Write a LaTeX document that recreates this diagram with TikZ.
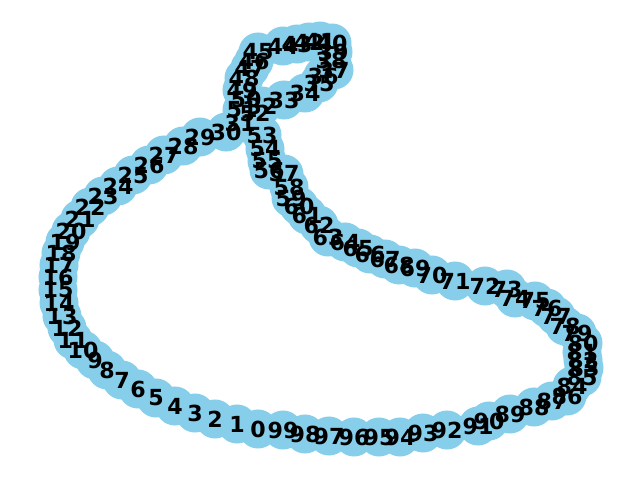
\documentclass[tikz,border=0pt]{standalone}
\usepackage{fontspec}
\setmainfont{DejaVu Sans}
\pgfdeclarelayer{bg}
\pgfsetlayers{bg,main}
\definecolor{skyblue}{HTML}{87CEEB}
\begin{document}
\begin{tikzpicture}[x=0.01in,y=-0.01in,
  vert/.style={circle,fill=skyblue,draw=none,minimum size=0.39in,inner sep=0pt},
  lab/.style={font=\bfseries\fontsize{16}{16}\selectfont,inner sep=0pt,text=black},
  edge/.style={draw=black,line width=1pt}]
\useasboundingbox (0,0) rectangle (640,480);
\foreach \i/\x/\y in {0/258/429,1/237/424,2/215/419,3/195/413,4/175/406,5/156/398,6/138/389,7/122/380,8/107/370,9/95/360,
10/83/350,11/73/340,12/67/328,13/62/316,14/59/303,15/58/290,16/58/277,17/59/265,18/61/253,19/65/242,
20/71/231,21/80/219,22/90/207,23/103/196,24/118/186,25/133/175,26/149/165,27/164/155,28/183/146,29/200/137,
30/226/132,31/240/123,32/262/106,33/284/100,34/305/93,35/319/83,36/323/76,37/334/70,38/331/60,39/333/52,
40/332/43,41/320/41,42/309/42,43/297/44,44/283/46,45/258/52,46/254/61,47/250/68,48/244/78,49/242/90,
50/246/99,51/242/110,52/255/113,53/262/135,54/265/149,55/267/161,56/269/170,57/284/174,58/289/187,59/291/198,
60/299/206,61/307/215,62/319/225,63/328/237,64/345/242,65/358/248,66/370/254,67/385/259,68/399/265,69/415/268,
70/432/275,71/455/281,72/485/286,73/507/289,74/515/298,75/535/301,76/547/308,77/556/316,78/565/326,79/577/333,
80/583/343,81/582/352,82/583/360,83/584/368,84/572/386,85/582/377,86/567/396,87/552/401,88/534/407,89/510/414,
90/489/421,91/478/426,92/447/430,93/423/433,94/400/437,95/379/437,96/354/437,97/329/436,98/305/434,99/283/430}
{ \node[vert] (v\i) at (\x,\y) {}; }
\foreach \i in {0,...,99} { \node[lab] (l\i) at (v\i.center) {\i}; }
\begin{pgfonlayer}{bg}
\foreach \i [evaluate=\i as \j using {int(mod(\i+1,100))}] in {0,...,99}
  { \draw[edge] (v\i.center) -- (v\j.center); }
\end{pgfonlayer}
\end{tikzpicture}
\end{document}
